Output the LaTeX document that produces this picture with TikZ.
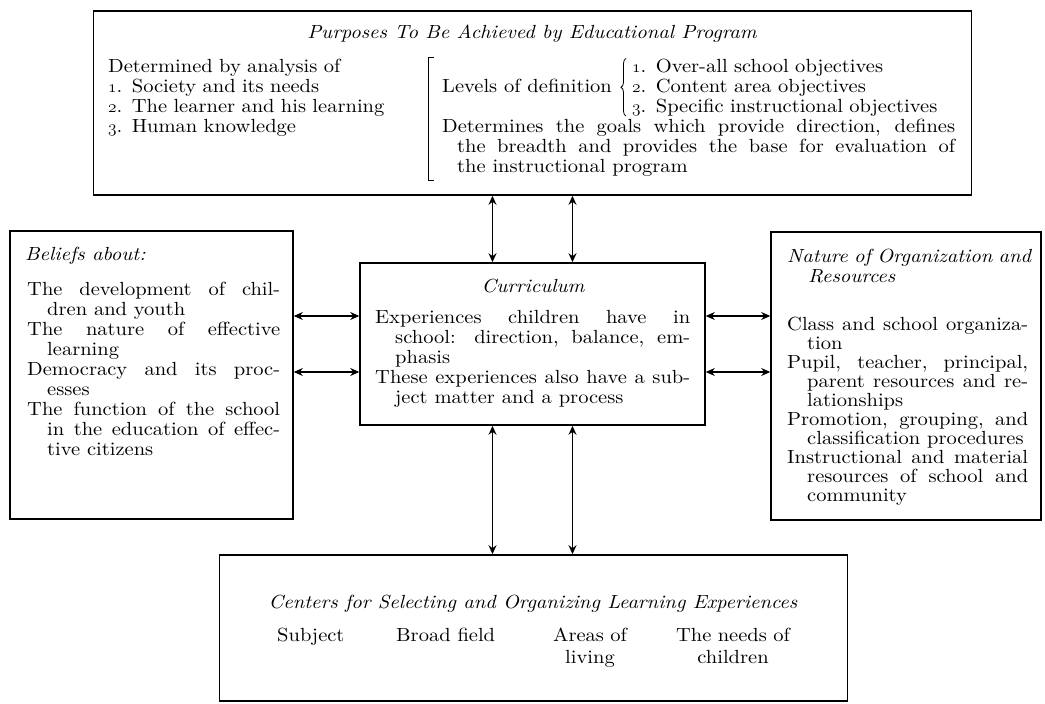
\documentclass[tikz,border=0pt]{standalone}
\usepackage{fontspec}
\setmainfont{lmroman10-regular.otf}[ItalicFont=lmroman10-italic.otf, BoldFont=lmroman10-bold.otf, FakeStretch=1.08]
\usetikzlibrary{arrows.meta, decorations.pathreplacing}

\newcommand\mainsize{\fontsize{19}{20}\selectfont}
\newcommand\osn[1]{{\usefont{OML}{cmm}{m}{it}#1}}
\newcommand\hang{\hangindent=20pt\hangafter=1\relax}

\begin{document}
\begin{tikzpicture}[x=1pt, y=-1pt, >={Stealth[length=9pt,width=8pt,inset=3pt]},
	box/.style={draw, line width=1.6pt, inner sep=0pt},
	ttl/.style={font=\mainsize\itshape, anchor=base, inner sep=0pt},
	txt/.style={font=\mainsize, anchor=base west, inner sep=0pt},
	para/.style={txt, align=justify},
	dbl/.style={<->, line width=1.1pt}]
	
	\useasboundingbox (0,0) rectangle (1045,704);
	
	\node[box, minimum width=878pt, minimum height=184pt] (purp) at (532.5,103) {};
	\node[box, minimum width=283pt, minimum height=288pt] (beliefs) at (151.5,375) {};
	\node[box, minimum width=345pt, minimum height=162pt] (curr) at (532.5,344) {};
	\node[box, minimum width=270pt, minimum height=288pt] (nature) at (906,376) {};
	\node[box, minimum width=628pt, minimum height=146pt] (centers) at (533.5,628) {};
	
	% purposes
	\node[ttl] (purpT) at (532,38) {Purposes To Be Achieved by Educational Program};
	\node[txt, text width=300pt, align=left] (analysis) at (108,72) {Determined by analysis of\\ \osn{1}. Society and its needs\\ \osn{2}. The learner and his learning\\ \osn{3}. Human knowledge};
	\node[txt] (levels) at (442,92) {Levels of definition};
	\node[txt, text width=320pt, align=left] (objs) at (632,72) {\osn{1}. Over-all school objectives\\ \osn{2}. Content area objectives\\ \osn{3}. Specific instructional objectives};
	\draw[line width=0.8pt, decorate, decoration={brace, amplitude=5pt}] ([xshift=-6pt]objs.south west) -- ([xshift=-6pt]objs.north west);
	\node[para, text width=513pt] (goals) at (442,132) {\hangindent=15pt\hangafter=1 Determines the goals which provide direction, defines\linebreak the breadth and provides the base for evaluation of\linebreak the instructional program\par};
	\draw[line width=1pt] (434,57) -- (428,57) -- (428,180) -- (434,180);
	
	% beliefs
	\node[ttl, anchor=base west] (beliefsT) at (25,260) {Beliefs about:};
	\node[para, text width=253pt] (beliefsL) at (27,295) {\hang The development of chil-\linebreak dren and youth\par \hang The nature of effective\linebreak learning\par \hang Democracy and its proc-\linebreak esses\par \hang The function of the school\linebreak in the education of effec-\linebreak tive citizens\par};
	
	% curriculum
	\node[ttl] (currT) at (533,292) {Curriculum};
	\node[para, text width=315pt] (currL) at (375,323) {\hang Experiences children have in\linebreak school: direction, balance, em-\linebreak phasis\par \hang These experiences also have a sub-\linebreak ject matter and a process\par};
	
	% organization
	\node[ttl, anchor=base west, text width=250pt, align=left] (natureT) at (787,262) {Nature of Organization and\\\hspace*{21pt}Resources};
	\node[para, text width=241pt, font=\fontsize{19}{19}\selectfont] (natureL) at (787,330) {\hang Class and school organiza-\linebreak tion\par \hang Pupil, teacher, principal,\linebreak parent resources and re-\linebreak lationships\par \hang Promotion, grouping, and\linebreak classification procedures\par \hang Instructional and material\linebreak resources of school and\linebreak community\par};
	
	% centers
	\node[ttl] (centersT) at (533,608) {Centers for Selecting and Organizing Learning Experiences};
	\node[txt] (subj) at (277,641) {Subject};
	\node[txt] (broad) at (396,641) {Broad field};
	\node[txt, text width=100pt, align=center, anchor=base, font=\fontsize{19}{22}\selectfont] (areas) at (590,641) {Areas of\\living};
	\node[txt, text width=140pt, align=center, anchor=base, font=\fontsize{19}{22}\selectfont] (needs) at (733,641) {The needs of\\children};
	
	\foreach \dx in {-40,40}{
		\draw[dbl] ([xshift=\dx pt]purp.south) -- ([xshift=\dx pt]curr.north);
		\draw[dbl] ([xshift=\dx pt]curr.south) coordinate (s) -- (s |- centers.north);
	}
	\foreach \dy in {28,-28}{
		\draw[dbl] ([yshift=\dy pt]curr.west) coordinate (w) -- (w -| beliefs.east);
		\draw[dbl] ([yshift=\dy pt]curr.east) coordinate (e) -- (e -| nature.west);
	}
\end{tikzpicture}
\end{document}
